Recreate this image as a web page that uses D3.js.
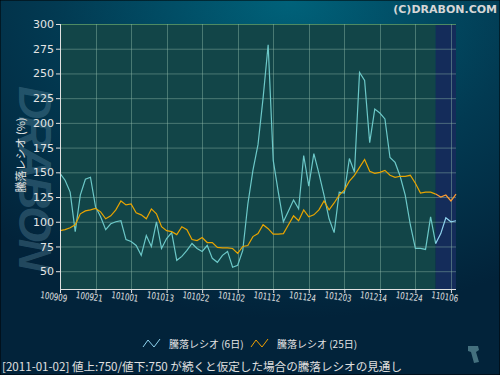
<!DOCTYPE html>
<html>
<head>
<meta charset="utf-8">
<script src="https://cdn.jsdelivr.net/npm/d3@7"></script>
<style>
  body { margin: 0; background: #000; }
  svg { display: block; }
</style>
</head>
<body>
<svg id="chart" width="500" height="375"></svg>
<script>
// tick labels every 7 trading days (yymmdd)
const tickLabels = ['100909', '100921', '101001', '101013', '101022', '101102',
  '101112', '101124', '101203', '101214', '101224', '110106'];
const tickStep = 7;
const yTicks = [50, 75, 100, 125, 150, 175, 200, 225, 250, 275, 300];

// 騰落レシオ (6日), one value per trading day, last 4 are the forecast
const ratio6 = [149, 142, 130, 90, 127, 143, 145, 115, 105, 92,
  98, 100, 101, 82, 80, 76, 66, 86, 75, 100,
  73, 83, 89, 61, 65, 71, 78, 73, 70, 76,
  63, 59, 66, 70, 54, 56, 71, 118, 152, 178,
  225, 279, 162, 130, 100, 111, 122, 113, 167, 136,
  169, 149, 127, 103, 89, 130, 129, 164, 150, 251,
  243, 180, 214, 210, 204, 165, 160, 146, 127, 97,
  73, 73, 72, 105, 78, 88, 104, 100, 101];

// 騰落レシオ (25日)
const ratio25 = [91, 92, 94, 97, 108, 111, 112, 113.5, 110, 103,
  106, 112, 121, 117, 118, 109, 107, 103, 113, 108,
  95, 91, 90, 87, 95, 92, 82, 81, 84, 79,
  79, 74, 73.5, 73.5, 73, 68, 75, 76, 85, 88,
  97, 93, 87.5, 87.5, 88, 97, 106, 101, 112, 105,
  107, 112, 121, 112, 119, 127, 132, 141, 147, 155,
  163, 151, 149, 150, 152, 147, 145, 146, 146, 147,
  139, 129, 130, 130, 128, 125, 127, 121, 128];

const forecastFrom = 74;
const legendItems = [
  { name: '騰落レシオ (6日)', color: '#8fd3ee' },
  { name: '騰落レシオ (25日)', color: '#f0a000' }
];
const footer = '[2011-01-02] 値上:750/値下:750 が続くと仮定した場合の騰落レシオの見通し';

const svg = d3.select('#chart');
const margin = { top: 24, right: 44, bottom: 86, left: 60 };
const width = +svg.attr('width');
const height = +svg.attr('height');
const innerWidth = width - margin.left - margin.right;
const innerHeight = height - margin.top - margin.bottom;

const n = ratio6.length;
const xScale = d3.scaleLinear().domain([0, n - 1]).range([0, innerWidth]);
const yScale = d3.scaleLinear().domain([32, 300]).range([innerHeight, 0]);

// background
const defs = svg.append('defs');
const bgGrad = defs.append('radialGradient')
  .attr('id', 'bg')
  .attr('cx', '58%').attr('cy', '0%').attr('r', '85%');
bgGrad.append('stop').attr('offset', '0%').attr('stop-color', '#00627a');
bgGrad.append('stop').attr('offset', '55%').attr('stop-color', '#023a52');
bgGrad.append('stop').attr('offset', '100%').attr('stop-color', '#02233a');

svg.append('rect')
  .attr('width', width).attr('height', height)
  .attr('fill', 'url(#bg)')
  .attr('stroke', '#000').attr('stroke-width', 1);

// watermark
svg.append('text')
  .attr('transform', 'translate(19,86) rotate(90)')
  .attr('font-family', 'Liberation Sans, Arial, sans-serif')
  .attr('font-size', 46)
  .attr('font-weight', 'bold')
  .attr('font-style', 'italic')
  .attr('textLength', 186)
  .attr('fill', '#6a9ab0')
  .attr('fill-opacity', 0.32)
  .text('DRABON');

// copyright
svg.append('text')
  .attr('x', 497).attr('y', 13)
  .attr('text-anchor', 'end')
  .attr('font-family', 'DejaVu Sans, sans-serif')
  .attr('font-size', 11)
  .attr('font-weight', 'bold')
  .attr('fill', '#d6d6d6')
  .text('(C)DRABON.COM');

const g = svg.append('g')
  .attr('transform', `translate(${margin.left},${margin.top})`);

// plot area
g.append('rect')
  .attr('width', xScale(forecastFrom)).attr('height', innerHeight)
  .attr('fill', '#124548');
g.append('rect')
  .attr('x', xScale(forecastFrom))
  .attr('width', innerWidth - xScale(forecastFrom)).attr('height', innerHeight)
  .attr('fill', '#142c5a');

// grid
const xTickIdx = tickLabels.map((d, i) => i * tickStep);
g.append('g').selectAll('line').data(yTicks).join('line')
  .attr('x1', 0).attr('x2', innerWidth)
  .attr('y1', d => yScale(d) + 0.5).attr('y2', d => yScale(d) + 0.5)
  .attr('stroke', d => d === 300 ? '#4e8a62' : '#8fb8a8')
  .attr('stroke-opacity', d => d === 300 ? 1 : 0.45);
g.append('g').selectAll('line').data(xTickIdx.slice(1)).join('line')
  .attr('x1', d => Math.round(xScale(d)) + 0.5).attr('x2', d => Math.round(xScale(d)) + 0.5)
  .attr('y1', 0).attr('y2', innerHeight)
  .attr('stroke', '#8fb8a8')
  .attr('stroke-opacity', 0.45);

// lines
const line = d3.line()
  .x(d => xScale(d.i))
  .y(d => yScale(d.v));
const toPts = arr => arr.map((v, i) => ({ i, v }));

const series = [
  { data: toPts(ratio6), color: '#6cc8c8', fcColor: '#8fd3ee' },
  { data: toPts(ratio25), color: '#e8a400', fcColor: '#ff9c30' }
];
series.forEach(s => {
  g.append('path')
    .datum(s.data.slice(0, forecastFrom + 1))
    .attr('fill', 'none')
    .attr('stroke', s.color)
    .attr('stroke-width', 1.2)
    .attr('d', line);
  g.append('path')
    .datum(s.data.slice(forecastFrom))
    .attr('fill', 'none')
    .attr('stroke', s.fcColor)
    .attr('stroke-width', 1.2)
    .attr('d', line);
});

// axes
const yAxis = d3.axisLeft(yScale)
  .tickValues(yTicks)
  .tickSize(4)
  .tickPadding(2);
const yAxisG = g.append('g').attr('class', 'y-axis').call(yAxis);
yAxisG.select('.domain').attr('stroke', '#e0e0e0').attr('d', `M0.5,0V${innerHeight}`);
yAxisG.selectAll('.tick line').attr('stroke', '#e0e0e0');
yAxisG.selectAll('.tick text')
  .attr('fill', '#e4e4e4')
  .attr('font-family', 'DejaVu Sans, sans-serif')
  .attr('font-size', 11);

const xAxis = d3.axisBottom(xScale)
  .tickValues(xTickIdx)
  .tickSize(4)
  .tickFormat('');
const xAxisG = g.append('g').attr('class', 'x-axis')
  .attr('transform', `translate(0,${innerHeight})`)
  .call(xAxis);
xAxisG.select('.domain').attr('stroke', '#e0e0e0').attr('d', `M0,0.5H${innerWidth}`);
xAxisG.selectAll('.tick line').attr('stroke', '#e0e0e0');

g.append('g').selectAll('text').data(xTickIdx).join('text')
  .attr('transform', d => `translate(${xScale(d) - 20},${innerHeight + 9}) rotate(8)`)
  .attr('font-family', 'DejaVu Sans Condensed, DejaVu Sans, sans-serif')
  .attr('font-size', 9.5)
  .attr('textLength', 27)
  .attr('lengthAdjust', 'spacingAndGlyphs')
  .attr('fill', '#e4e4e4')
  .text((d, i) => tickLabels[i]);

// y title
svg.append('text')
  .attr('transform', 'translate(25,155) rotate(-90)')
  .attr('text-anchor', 'middle')
  .attr('font-family', 'Noto Sans CJK JP, sans-serif')
  .attr('font-size', 11)
  .attr('fill', '#e4e4e4')
  .text('騰落レシオ (%)');

// legend
const legend = svg.append('g').attr('transform', 'translate(143,339)');
const legendX = [0, 108];
legendItems.forEach((d, i) => {
  const lg = legend.append('g').attr('transform', `translate(${legendX[i]},0)`);
  lg.append('polyline')
    .attr('points', '0,8 5,1 11,8 17,0')
    .attr('fill', 'none')
    .attr('stroke', d.color)
    .attr('stroke-width', 1);
  lg.append('text')
    .attr('x', 26).attr('y', 9)
    .attr('font-family', 'Noto Sans CJK JP, sans-serif')
    .attr('font-size', 10)
    .attr('fill', '#e4e4e4')
    .text(d.name);
});

// footer
svg.append('text')
  .attr('x', 2).attr('y', 371)
  .attr('font-family', 'Noto Sans CJK JP, sans-serif')
  .attr('font-size', 11.5)
  .attr('textLength', 400)
  .attr('lengthAdjust', 'spacingAndGlyphs')
  .attr('fill', '#e0e0e0')
  .text(footer);

// small logo mark bottom right
svg.append('path')
  .attr('d', 'M468,346 L478,346 L479,350 L476,352 L479,362 L474,363 L471,352 L468,351 Z')
  .attr('fill', '#44707e');
</script>
</body>
</html>
